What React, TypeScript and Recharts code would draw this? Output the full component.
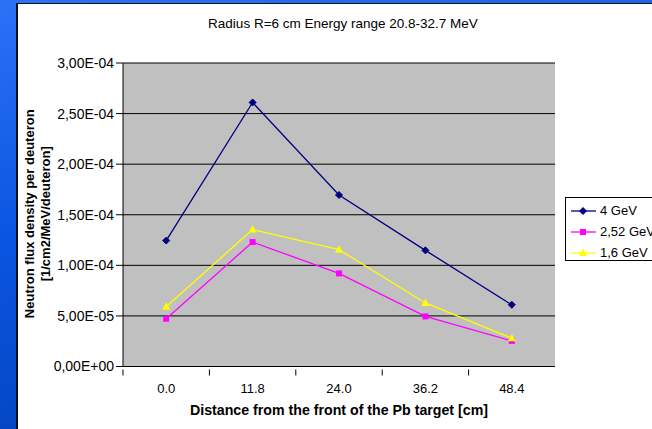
import { CartesianGrid, Line, LineChart, XAxis, YAxis, Label } from 'recharts'

const distances = ['0.0', '11.8', '24.0', '36.2', '48.4']
const flux4GeV = [1.245e-4, 2.61e-4, 1.695e-4, 1.148e-4, 6.1e-5]
const flux252GeV = [4.72e-5, 1.23e-4, 9.2e-5, 4.95e-5, 2.53e-5]
const flux16GeV = [5.9e-5, 1.354e-4, 1.155e-4, 6.28e-5, 2.8e-5]
const yTicks = [0, 5e-5, 1e-4, 1.5e-4, 2e-4, 2.5e-4, 3e-4]

const data = distances.map((x, i) => ({
  x,
  g4: flux4GeV[i],
  g252: flux252GeV[i],
  g16: flux16GeV[i],
}))

const FONT = '"Liberation Sans", Arial, sans-serif'

function fmtExp(v: number) {
  const [m, e] = v.toExponential(2).split('e')
  const n = parseInt(e, 10)
  return m.replace('.', ',') + 'E' + (n < 0 ? '-' : '+') + String(Math.abs(n)).padStart(2, '0')
}

function Marker({ kind, cx, cy, color }: { kind: string; cx: number; cy: number; color: string }) {
  if (kind === 'diamond') {
    return <polygon points={`${cx},${cy - 3.5} ${cx + 3.5},${cy} ${cx},${cy + 3.5} ${cx - 3.5},${cy}`} fill={color} stroke={color} />
  }
  if (kind === 'square') {
    return <rect x={cx - 3} y={cy - 3} width={6} height={6} fill={color} />
  }
  return <polygon points={`${cx},${cy - 4.5} ${cx + 4},${cy + 3} ${cx - 4},${cy + 3}`} fill={color} />
}

const series = [
  { key: 'g4', name: '4 GeV', color: '#000080', kind: 'diamond' },
  { key: 'g252', name: '2,52 GeV', color: '#FF00FF', kind: 'square' },
  { key: 'g16', name: '1,6 GeV', color: '#FFFF00', kind: 'triangle' },
]

function XTick(props: any) {
  const { x, y, payload } = props
  const off = payload.offset ?? 43.2
  return (
    <g>
      <line x1={x - off} y1={y - 5} x2={x - off} y2={y + 1} stroke="#000" />
      <text x={x} y={y + 18} textAnchor="middle" fontSize={13} fill="#000">
        {payload.value}
      </text>
    </g>
  )
}

function YLabel(props: any) {
  const { viewBox } = props
  const cy = viewBox.y + viewBox.height / 2 - 1
  return (
    <g>
      <text x={0} y={0} transform={`translate(${viewBox.x + 34},${cy}) rotate(-90)`} textAnchor="middle" fontSize={13} fontWeight="bold" fill="#000">
        Neutron flux density per deuteron
      </text>
      <text x={0} y={0} transform={`translate(${viewBox.x + 50},${cy}) rotate(-90)`} textAnchor="middle" fontSize={13} fontWeight="bold" fill="#000">
        [1/cm2/MeV/deuteron]
      </text>
    </g>
  )
}

function LegendBox() {
  return (
    <div style={{ position: 'absolute', left: 565, top: 197, border: '1px solid #000', background: '#fff', width: 100, height: 64, fontFamily: FONT, fontSize: 13, boxSizing: 'border-box', paddingTop: 2 }}>
      {series.map((s) => (
        <div key={s.key} style={{ display: 'flex', alignItems: 'center', height: 21 }}>
          <svg width={34} height={12}>
            <line x1={5} y1={6} x2={30} y2={6} stroke={s.color} strokeWidth={1.3} />
            <Marker kind={s.kind} cx={17} cy={6} color={s.color} />
          </svg>
          <span style={{ whiteSpace: 'nowrap' }}>{s.name}</span>
        </div>
      ))}
    </div>
  )
}

export default function App() {
  return (
    <div style={{ position: 'absolute', left: 0, top: 0, width: 652, height: 429, overflow: 'hidden', background: 'linear-gradient(170deg, #2a72f6 0%, #0a55e0 45%, #003fb4 100%)' }}>
      <div style={{ position: 'absolute', left: 16, top: 3, right: 0, bottom: 0, background: '#fff', borderLeft: '2px solid #111', borderTop: '1px solid #111' }} />
      <div style={{ position: 'absolute', left: 0, top: 16, width: 686, textAlign: 'center', fontFamily: FONT, fontSize: 13.5, color: '#000' }}>
        Radius R=6 cm Energy range 20.8-32.7 MeV
      </div>
      <div style={{ position: 'absolute', left: 0, top: 0 }}>
        <LineChart width={652} height={429} data={data} margin={{ top: 63, right: 97, left: 0, bottom: 0 }} style={{ fontFamily: FONT }}>
          <CartesianGrid vertical={false} stroke="#000" fill="#C0C0C0" strokeOpacity={1} />
          <XAxis
            dataKey="x"
            scale="band"
            height={62.5}
            tickLine={false}
            axisLine={{ stroke: '#000' }}
            tick={<XTick />}
            interval={0}
          >
            <Label value="Distance from the front of the Pb target [cm]" position="insideBottom" offset={14} style={{ fontSize: 14.2, fontWeight: 'bold', fill: '#000' }} />
          </XAxis>
          <XAxis xAxisId="top" orientation="top" dataKey="x" height={0} tick={false} tickLine={false} axisLine={{ stroke: '#808080' }} />
          <YAxis
            domain={[0, 3e-4]}
            ticks={yTicks}
            width={123}
            tickSize={7}
            tickMargin={2}
            tickFormatter={fmtExp}
            axisLine={{ stroke: '#000' }}
            tickLine={{ stroke: '#000' }}
            tick={{ fontSize: 14, fill: '#000' }}
            interval={0}
          >
            <Label content={<YLabel />} />
          </YAxis>
          <YAxis yAxisId="right" orientation="right" width={0} tick={false} tickLine={false} axisLine={{ stroke: '#808080' }} />
          {series.map((s) => (
            <Line
              key={s.key}
              dataKey={s.key}
              name={s.name}
              stroke={s.color}
              strokeWidth={1.3}
              isAnimationActive={false}
              dot={(p: any) => <Marker key={`${s.key}-${p.index}`} kind={s.kind} cx={p.cx} cy={p.cy} color={s.color} />}
              activeDot={false}
            />
          ))}
        </LineChart>
      </div>
      <LegendBox />
    </div>
  )
}
